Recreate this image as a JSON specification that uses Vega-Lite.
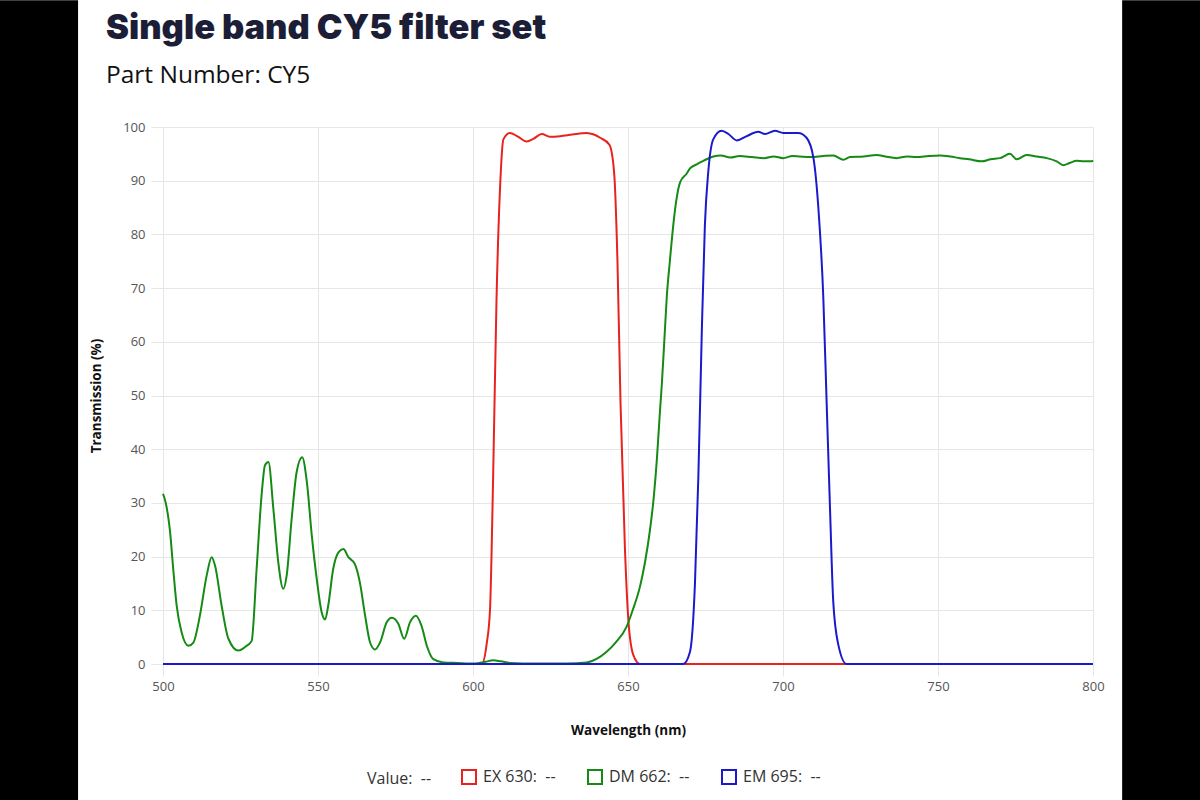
{
  "$schema": "https://vega.github.io/schema/vega-lite/v6.json",
  "width": 930,
  "height": 537,
  "autosize": {"type": "none"},
  "padding": {"left": 163, "top": 127, "right": 107, "bottom": 136},
  "background": "white",
  "title": {
    "text": "Single band CY5 filter set",
    "subtitle": "Part Number: CY5",
    "anchor": "start",
    "frame": "group",
    "dx": -57,
    "dy": 88,
    "offset": 0,
    "font": "Inter",
    "fontWeight": 900,
    "fontSize": 34.5,
    "color": "#1b1e36",
    "subtitleFont": "Open Sans",
    "subtitleFontSize": 24.5,
    "subtitleColor": "#111111",
    "subtitlePadding": 17
  },
  "config": {
    "view": {"stroke": null},
    "axis": {
      "gridColor": "#e6e6e6",
      "tickColor": "#e6e6e6",
      "domain": false,
      "labelFont": "Open Sans",
      "labelFontSize": 13,
      "labelColor": "#555555",
      "labelFlush": false,
      "titleFont": "Open Sans",
      "titleFontSize": 13.5,
      "titleFontWeight": "bold",
      "titleColor": "#111111"
    }
  },
  "datasets": {
    "spectra": [
      {"nm": 500, "T": 0, "s": "EX 630"},
      {"nm": 602.8, "T": 0, "s": "EX 630"},
      {"nm": 604.4, "T": 3.7, "s": "EX 630"},
      {"nm": 605.5, "T": 10.3, "s": "EX 630"},
      {"nm": 606.5, "T": 35, "s": "EX 630"},
      {"nm": 607.6, "T": 68.3, "s": "EX 630"},
      {"nm": 608.7, "T": 88.3, "s": "EX 630"},
      {"nm": 609.8, "T": 97.7, "s": "EX 630"},
      {"nm": 611.9, "T": 98.9, "s": "EX 630"},
      {"nm": 614.5, "T": 98.2, "s": "EX 630"},
      {"nm": 617.3, "T": 97.3, "s": "EX 630"},
      {"nm": 619.5, "T": 97.8, "s": "EX 630"},
      {"nm": 622.2, "T": 98.7, "s": "EX 630"},
      {"nm": 624.8, "T": 98.2, "s": "EX 630"},
      {"nm": 628.1, "T": 98.3, "s": "EX 630"},
      {"nm": 632, "T": 98.6, "s": "EX 630"},
      {"nm": 636.7, "T": 98.9, "s": "EX 630"},
      {"nm": 639, "T": 98.6, "s": "EX 630"},
      {"nm": 641, "T": 98, "s": "EX 630"},
      {"nm": 644, "T": 96.7, "s": "EX 630"},
      {"nm": 645.5, "T": 91.7, "s": "EX 630"},
      {"nm": 646.6, "T": 75, "s": "EX 630"},
      {"nm": 647.6, "T": 48.3, "s": "EX 630"},
      {"nm": 649, "T": 21.7, "s": "EX 630"},
      {"nm": 650.1, "T": 8.3, "s": "EX 630"},
      {"nm": 651.7, "T": 1.7, "s": "EX 630"},
      {"nm": 653.9, "T": 0, "s": "EX 630"},
      {"nm": 800, "T": 0, "s": "EX 630"},

      {"nm": 500, "T": 31.7, "s": "DM 662"},
      {"nm": 500.8, "T": 30.2, "s": "DM 662"},
      {"nm": 502.3, "T": 24.5, "s": "DM 662"},
      {"nm": 503.3, "T": 17.7, "s": "DM 662"},
      {"nm": 504.4, "T": 10.9, "s": "DM 662"},
      {"nm": 506.0, "T": 5.9, "s": "DM 662"},
      {"nm": 508.2, "T": 3.4, "s": "DM 662"},
      {"nm": 509.8, "T": 4.0, "s": "DM 662"},
      {"nm": 511.9, "T": 9.0, "s": "DM 662"},
      {"nm": 514.1, "T": 16.5, "s": "DM 662"},
      {"nm": 515.7, "T": 19.9, "s": "DM 662"},
      {"nm": 516.8, "T": 18.3, "s": "DM 662"},
      {"nm": 518.9, "T": 10.9, "s": "DM 662"},
      {"nm": 521.1, "T": 4.7, "s": "DM 662"},
      {"nm": 524.3, "T": 2.5, "s": "DM 662"},
      {"nm": 527.0, "T": 3.4, "s": "DM 662"},
      {"nm": 528.6, "T": 4.3, "s": "DM 662"},
      {"nm": 530.2, "T": 17.7, "s": "DM 662"},
      {"nm": 531.8, "T": 31.4, "s": "DM 662"},
      {"nm": 532.9, "T": 37.0, "s": "DM 662"},
      {"nm": 534.0, "T": 37.6, "s": "DM 662"},
      {"nm": 535.6, "T": 28.9, "s": "DM 662"},
      {"nm": 537.2, "T": 18.9, "s": "DM 662"},
      {"nm": 538.8, "T": 14.0, "s": "DM 662"},
      {"nm": 539.9, "T": 16.5, "s": "DM 662"},
      {"nm": 541.5, "T": 27.0, "s": "DM 662"},
      {"nm": 543.1, "T": 35.7, "s": "DM 662"},
      {"nm": 544.9, "T": 38.5, "s": "DM 662"},
      {"nm": 546.4, "T": 33.9, "s": "DM 662"},
      {"nm": 548.0, "T": 23.9, "s": "DM 662"},
      {"nm": 549.6, "T": 15.8, "s": "DM 662"},
      {"nm": 551.2, "T": 9.6, "s": "DM 662"},
      {"nm": 552.3, "T": 8.3, "s": "DM 662"},
      {"nm": 553.3, "T": 10.9, "s": "DM 662"},
      {"nm": 554.9, "T": 17.7, "s": "DM 662"},
      {"nm": 556.6, "T": 20.8, "s": "DM 662"},
      {"nm": 558.2, "T": 21.4, "s": "DM 662"},
      {"nm": 559.8, "T": 19.9, "s": "DM 662"},
      {"nm": 561.9, "T": 18.6, "s": "DM 662"},
      {"nm": 563.5, "T": 15.2, "s": "DM 662"},
      {"nm": 565.2, "T": 9.0, "s": "DM 662"},
      {"nm": 566.8, "T": 4.0, "s": "DM 662"},
      {"nm": 568.4, "T": 2.7, "s": "DM 662"},
      {"nm": 570.0, "T": 4.0, "s": "DM 662"},
      {"nm": 572.2, "T": 7.8, "s": "DM 662"},
      {"nm": 573.8, "T": 8.6, "s": "DM 662"},
      {"nm": 575.9, "T": 7.5, "s": "DM 662"},
      {"nm": 577.8, "T": 4.7, "s": "DM 662"},
      {"nm": 579.7, "T": 7.8, "s": "DM 662"},
      {"nm": 581.6, "T": 9.0, "s": "DM 662"},
      {"nm": 583.4, "T": 7.1, "s": "DM 662"},
      {"nm": 585.1, "T": 3.4, "s": "DM 662"},
      {"nm": 587.2, "T": 0.9, "s": "DM 662"},
      {"nm": 590.4, "T": 0.3, "s": "DM 662"},
      {"nm": 595, "T": 0.2, "s": "DM 662"},
      {"nm": 600.1, "T": 0.1, "s": "DM 662"},
      {"nm": 604, "T": 0.4, "s": "DM 662"},
      {"nm": 606.5, "T": 0.7, "s": "DM 662"},
      {"nm": 609, "T": 0.5, "s": "DM 662"},
      {"nm": 612, "T": 0.2, "s": "DM 662"},
      {"nm": 620, "T": 0.1, "s": "DM 662"},
      {"nm": 630, "T": 0.1, "s": "DM 662"},
      {"nm": 636.7, "T": 0.3, "s": "DM 662"},
      {"nm": 640, "T": 1.0, "s": "DM 662"},
      {"nm": 643.1, "T": 2.3, "s": "DM 662"},
      {"nm": 646, "T": 4, "s": "DM 662"},
      {"nm": 649.6, "T": 7, "s": "DM 662"},
      {"nm": 651.5, "T": 10, "s": "DM 662"},
      {"nm": 653.9, "T": 14.5, "s": "DM 662"},
      {"nm": 655.5, "T": 19, "s": "DM 662"},
      {"nm": 657.1, "T": 25, "s": "DM 662"},
      {"nm": 658.3, "T": 31, "s": "DM 662"},
      {"nm": 659.3, "T": 38, "s": "DM 662"},
      {"nm": 660.3, "T": 47, "s": "DM 662"},
      {"nm": 660.9, "T": 52, "s": "DM 662"},
      {"nm": 661.7, "T": 60, "s": "DM 662"},
      {"nm": 662.5, "T": 68.3, "s": "DM 662"},
      {"nm": 663.5, "T": 75, "s": "DM 662"},
      {"nm": 664.6, "T": 81.7, "s": "DM 662"},
      {"nm": 665.5, "T": 86, "s": "DM 662"},
      {"nm": 666.8, "T": 89.7, "s": "DM 662"},
      {"nm": 668.9, "T": 91.3, "s": "DM 662"},
      {"nm": 670, "T": 92.3, "s": "DM 662"},
      {"nm": 672, "T": 93, "s": "DM 662"},
      {"nm": 674.3, "T": 93.7, "s": "DM 662"},
      {"nm": 677.5, "T": 94.5, "s": "DM 662"},
      {"nm": 680, "T": 94.7, "s": "DM 662"},
      {"nm": 683, "T": 94.3, "s": "DM 662"},
      {"nm": 686, "T": 94.6, "s": "DM 662"},
      {"nm": 690, "T": 94.4, "s": "DM 662"},
      {"nm": 694, "T": 94.2, "s": "DM 662"},
      {"nm": 697, "T": 94.5, "s": "DM 662"},
      {"nm": 700, "T": 94.2, "s": "DM 662"},
      {"nm": 703, "T": 94.6, "s": "DM 662"},
      {"nm": 705.5, "T": 94.5, "s": "DM 662"},
      {"nm": 709, "T": 94.4, "s": "DM 662"},
      {"nm": 713, "T": 94.6, "s": "DM 662"},
      {"nm": 716.2, "T": 94.7, "s": "DM 662"},
      {"nm": 719.5, "T": 93.9, "s": "DM 662"},
      {"nm": 721.6, "T": 94.4, "s": "DM 662"},
      {"nm": 726, "T": 94.5, "s": "DM 662"},
      {"nm": 730.2, "T": 94.8, "s": "DM 662"},
      {"nm": 733, "T": 94.5, "s": "DM 662"},
      {"nm": 736.7, "T": 94.2, "s": "DM 662"},
      {"nm": 740, "T": 94.5, "s": "DM 662"},
      {"nm": 743.1, "T": 94.4, "s": "DM 662"},
      {"nm": 747, "T": 94.6, "s": "DM 662"},
      {"nm": 750.6, "T": 94.7, "s": "DM 662"},
      {"nm": 754, "T": 94.5, "s": "DM 662"},
      {"nm": 757.1, "T": 94.2, "s": "DM 662"},
      {"nm": 760, "T": 94.0, "s": "DM 662"},
      {"nm": 764.1, "T": 93.6, "s": "DM 662"},
      {"nm": 767, "T": 94.0, "s": "DM 662"},
      {"nm": 770, "T": 94.2, "s": "DM 662"},
      {"nm": 773.2, "T": 95.0, "s": "DM 662"},
      {"nm": 775.4, "T": 94.0, "s": "DM 662"},
      {"nm": 778.6, "T": 94.8, "s": "DM 662"},
      {"nm": 782, "T": 94.5, "s": "DM 662"},
      {"nm": 785.1, "T": 94.2, "s": "DM 662"},
      {"nm": 788.3, "T": 93.6, "s": "DM 662"},
      {"nm": 790.4, "T": 92.9, "s": "DM 662"},
      {"nm": 792.5, "T": 93.3, "s": "DM 662"},
      {"nm": 794.7, "T": 93.7, "s": "DM 662"},
      {"nm": 797, "T": 93.6, "s": "DM 662"},
      {"nm": 799.6, "T": 93.6, "s": "DM 662"},
      {"nm": 800, "T": 93.8, "s": "DM 662"},

      {"nm": 500, "T": 0, "s": "EM 695"},
      {"nm": 667.8, "T": 0, "s": "EM 695"},
      {"nm": 670, "T": 2.3, "s": "EM 695"},
      {"nm": 671.6, "T": 15, "s": "EM 695"},
      {"nm": 672.7, "T": 35, "s": "EM 695"},
      {"nm": 673.8, "T": 61.7, "s": "EM 695"},
      {"nm": 674.8, "T": 81.7, "s": "EM 695"},
      {"nm": 675.9, "T": 91.7, "s": "EM 695"},
      {"nm": 677.5, "T": 97.7, "s": "EM 695"},
      {"nm": 680.2, "T": 99.3, "s": "EM 695"},
      {"nm": 682.4, "T": 98.7, "s": "EM 695"},
      {"nm": 685.1, "T": 97.5, "s": "EM 695"},
      {"nm": 688.3, "T": 98.3, "s": "EM 695"},
      {"nm": 692, "T": 99.1, "s": "EM 695"},
      {"nm": 694.2, "T": 98.7, "s": "EM 695"},
      {"nm": 697.4, "T": 99.3, "s": "EM 695"},
      {"nm": 700.1, "T": 98.9, "s": "EM 695"},
      {"nm": 704.9, "T": 98.9, "s": "EM 695"},
      {"nm": 707.6, "T": 98, "s": "EM 695"},
      {"nm": 709.8, "T": 94.3, "s": "EM 695"},
      {"nm": 711.4, "T": 85, "s": "EM 695"},
      {"nm": 713, "T": 68.3, "s": "EM 695"},
      {"nm": 714.1, "T": 48.3, "s": "EM 695"},
      {"nm": 715.2, "T": 28.3, "s": "EM 695"},
      {"nm": 716.2, "T": 11.7, "s": "EM 695"},
      {"nm": 717.8, "T": 3.7, "s": "EM 695"},
      {"nm": 720.5, "T": 0, "s": "EM 695"},
      {"nm": 800, "T": 0, "s": "EM 695"}
    ]
  },
  "layer": [
    {
      "data": {"name": "spectra"},
      "mark": {"type": "line", "strokeWidth": 2, "interpolate": "monotone"},
      "encoding": {
        "x": {
          "field": "nm",
          "type": "quantitative",
          "scale": {"domain": [500, 800], "nice": false},
          "axis": {
            "title": "Wavelength (nm)",
            "values": [500, 550, 600, 650, 700, 750, 800],
            "tickSize": 12,
            "labelPadding": 4,
            "titlePadding": 30
          }
        },
        "y": {
          "field": "T",
          "type": "quantitative",
          "scale": {"domain": [0, 100], "nice": false},
          "axis": {
            "title": "Transmission (%)",
            "values": [0, 10, 20, 30, 40, 50, 60, 70, 80, 90, 100],
            "tickSize": 12,
            "labelPadding": 6,
            "titlePadding": 19
          }
        },
        "color": {
          "field": "s",
          "type": "nominal",
          "scale": {
            "domain": ["EX 630", "DM 662", "EM 695"],
            "range": ["#e8221e", "#158a15", "#1a1acc"]
          },
          "legend": {
            "title": "Value:\u00a0\u00a0--",
            "titleOrient": "left",
            "titleFont": "Open Sans",
            "titleFontSize": 16,
            "titleFontWeight": "normal",
            "titleColor": "#333333",
            "titlePadding": 29,
            "orient": "none",
            "legendX": 204,
            "legendY": 642,
            "direction": "horizontal",
            "symbolType": "square",
            "symbolFillColor": "white",
            "symbolStrokeWidth": 2,
            "symbolSize": 196,
            "labelFont": "Open Sans",
            "labelFontSize": 16,
            "labelColor": "#333333",
            "labelOffset": 6,
            "labelExpr": "datum.label + ':\u00a0\u00a0--'",
            "columnPadding": 28
          }
        }
      }
    },
    {
      "data": {"values": [{}]},
      "mark": {"type": "rect", "color": "black", "clip": false},
      "encoding": {
        "x": {"datum": 440},
        "x2": {"datum": 472.6},
        "y": {"datum": -25.4},
        "y2": {"datum": 123.6}
      }
    },
    {
      "data": {"values": [{}]},
      "mark": {"type": "rect", "color": "black", "clip": false},
      "encoding": {
        "x": {"datum": 809.4},
        "x2": {"datum": 845},
        "y": {"datum": -25.4},
        "y2": {"datum": 123.6}
      }
    }
  ]
}
